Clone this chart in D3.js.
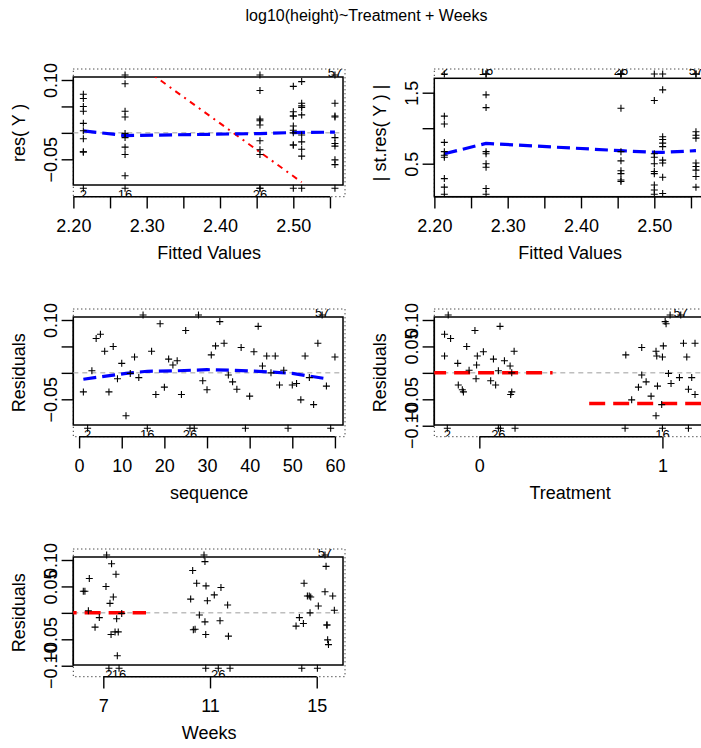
<!DOCTYPE html>
<html>
<head>
<meta charset="utf-8">
<script src="https://cdn.jsdelivr.net/npm/d3@7"></script>
<style>
body { margin: 0; background: #fff; }
text { font-family: "Liberation Sans", Arial, Helvetica, sans-serif; fill: #000; }
</style>
</head>
<body>
<svg id="chart" width="701" height="748"></svg>
<script>
// model: log10(height) ~ Treatment + Weeks, 60 observations
var titleText = "log10(height)~Treatment + Weeks";

// residuals by sequence (null = drawn in the margin as an outlier)
var resid = [
  -0.036, null, 0.004, 0.065, 0.073, 0.041, -0.036, 0.050, -0.011, 0.018,
  -0.081, -0.001, 0.030, -0.009, null, null, 0.041, -0.041, 0.093, -0.027,
  0.026, 0.015, 0.023, -0.041, 0.080, null, null, null, -0.015, -0.032,
  0.034, 0.051, 0.097, 0.056, -0.004, -0.017, -0.031, 0.048, null, -0.044,
  0.040, 0.088, 0.013, 0.032, 0.000, 0.032, -0.023, 0.005, null, -0.023,
  -0.020, -0.051, 0.032, -0.009, -0.060, 0.056, null, -0.025, null, 0.030
];
var highSeq = [15, 28, 57];
var lowSeq = [2, 16, 26, 27, 39, 49, 59];
var labelSeq = [2, 16, 26, 57];

// fitted value of each observation (index into fittedLevels)
var fittedLevels = [2.2136, 2.2705, 2.4545, 2.5114, 2.5000, 2.5568];
var group = [
  0,0,0,0,0,0,0,0,0,0, 1,1,1,1,1,1,1,1,1,1,
  2,2,2,2,2,2,2,2,2,2, 3,3,3,3,3,3,3,3,3,3,
  4,4,4,4,4,4,4,4,4,4, 5,5,5,5,5,5,5,5,5,5
];

// | standardized residuals |
var absStres = [
  0.62, null, 0.07, 1.06, 1.17, 0.67, 0.59, 0.80, 0.17, 0.29,
  1.29, 0.07, 0.50, 0.15, null, null, 0.67, 0.64, 1.47, 0.45,
  0.40, 0.27, 0.36, 0.67, 1.28, null, null, null, 0.25, 0.54,
  0.55, 0.84, 1.54, 0.88, 0.08, 0.31, 0.51, 0.79, null, 0.74,
  0.64, 1.39, 0.20, 0.59, 0.07, 0.50, 0.39, 0.13, null, 0.36,
  0.32, 0.86, 0.51, 0.17, 0.95, 0.90, null, 0.41, null, 0.46
];
var stresHighSeq = [2, 15, 16, 26, 27, 28, 39, 49, 57, 59];

// jittered Treatment and Weeks positions
var trtJit = [
  -0.087, -0.175, 0.104, -0.157, -0.190, 0.190, 0.177, -0.069, -0.018, -0.118,
  0.965, 1.033, 1.000, 1.093, 1.042, 1.000, 0.965, 1.178, 1.020, 0.869,
  0.077, -0.015, 0.137, 0.171, -0.024, 0.104, 0.195, -0.170, 0.062, -0.093,
  0.800, 1.005, 1.015, 1.115, 0.887, 0.911, 1.142, 0.887, 0.796, 0.938,
  0.022, 0.113, 0.168, -0.190, 0.177, -0.011, -0.115, -0.056, 0.115, 0.089,
  1.047, 0.832, 0.969, 1.160, 0.996, 1.178, 1.100, 0.973, 1.142, 1.133
];
var wkJit = [
  7.44, 7.21, 6.44, 6.475, 7.475, 6.25, 7.56, 7.10, 7.50, 7.25,
  7.525, 7.69, 7.375, 6.85, 7.125, 7.59, 6.31, 7.29, 7.31, 6.69,
  10.275, 11.66, 10.90, 10.84, 10.35, 11.31, 10.84, 10.775, 11.375, 10.375,
  11.16, 10.85, 10.81, 10.50, 10.60, 10.81, 10.44, 11.41, 11.75, 11.69,
  15.31, 15.35, 15.06, 14.65, 14.75, 15.60, 15.375, 15.66, 14.44, 15.39,
  14.50, 15.41, 14.72, 14.35, 15.44, 14.525, 15.31, 14.225, 15.025, 14.775
];

// smoothers and reference lines
var fitLowX = [2.2136, 2.2705, 2.4545, 2.5000, 2.5114, 2.5568];
var fitLowY = [0.0038, -0.0051, -0.0013, 0.0006, 0.0008, 0.0013];
var refX = [2.3114, 2.5114];
var refY = [0.1067, -0.0933];
var stresLowX = [2.2136, 2.2705, 2.4545, 2.5000, 2.5114, 2.5568];
var stresLowY = [0.64, 0.786, 0.683, 0.660, 0.660, 0.683];
var seqLowX = [1, 11, 16, 23, 30, 36, 42, 50, 58];
var seqLowY = [-0.012, -0.001, 0.003, 0.004, 0.006, 0.005, 0.003, -0.001, -0.011];
var trtLevels = [0, 1];
var trtLineY = [0, -0.058];
var wkLevels = [7];
var wkLineY = [0];

// ticks
var fitTicks = [2.20, 2.25, 2.30, 2.35, 2.40, 2.45, 2.50, 2.55];
var fitTickLabels = ["2.20", "", "2.30", "", "2.40", "", "2.50", ""];
var seqTicks = [0, 10, 20, 30, 40, 50, 60];
var trtTicks = [0, 1];
var wkTicks = [7, 11, 15];
var resTicks = [-0.05, 0, 0.05, 0.10];
var resTickLabels = ["\u22120.05", "", "", "0.10"];
var resTicks5 = [-0.10, -0.05, 0, 0.05, 0.10];
var resTickLabels5 = ["\u22120.10", "\u22120.05", "", "0.05", "0.10"];
var stresTicks = [0.5, 1.0, 1.5];
var stresTickLabels = ["0.5", "", "1.5"];

var svg = d3.select("#chart");
svg.append("rect").attr("width", 701).attr("height", 748).attr("fill", "#fff");
var defs = svg.append("defs");

svg.append("text")
  .attr("x", 366.5).attr("y", 21)
  .attr("text-anchor", "middle")
  .style("font-size", "16px")
  .text(titleText);

var cols = [{ L: 73.3, R: 345 }, { L: 434.3, R: 706 }];
var rows = [0, 240, 480];

function plus(g, pts) {
  g.selectAll(null).data(pts).enter().append("path")
    .attr("d", function(d) { return "M" + (d[0] - 3.5) + "," + d[1] + "h7M" + d[0] + "," + (d[1] - 3.5) + "v7"; })
    .attr("stroke", "#000").attr("stroke-width", 1.1).attr("fill", "none");
}

// frame, axes and clip groups of one panel
function panel(p) {
  var L = cols[p.col].L, R = cols[p.col].R, off = rows[p.row];
  var top = 69 + off, bottom = 196.7 + off;
  var inTop = p.inTop + off, inBot = p.inBot + off;
  var x = d3.scaleLinear().domain(p.xDomain).range([L, R]);
  var y = d3.scaleLinear().domain(p.yDomain).range([p.yRange[0] + off, p.yRange[1] + off]);
  var id = "clip" + p.col + p.row;

  defs.append("clipPath").attr("id", id + "o").append("rect")
    .attr("x", L).attr("y", top).attr("width", R - L).attr("height", bottom - top);
  defs.append("clipPath").attr("id", id + "i").append("rect")
    .attr("x", L).attr("y", inTop).attr("width", R - 2 - L).attr("height", inBot - inTop);

  svg.append("rect")
    .attr("x", L).attr("y", top).attr("width", R - L).attr("height", bottom - top)
    .attr("fill", "none").attr("stroke", "#000").attr("stroke-width", 1)
    .attr("stroke-dasharray", "1,3");
  svg.append("rect")
    .attr("x", L).attr("y", inTop).attr("width", R - 2 - L).attr("height", inBot - inTop)
    .attr("fill", "none").attr("stroke", "#000").attr("stroke-width", 1.5);

  // x axis
  var gx = svg.append("g").attr("transform", "translate(0," + bottom + ")")
    .call(d3.axisBottom(x).tickValues(p.xTicks)
      .tickFormat(function(d, i) { return p.xLabels[i]; })
      .tickSize(11.7).tickPadding(10.8));
  gx.select(".domain").remove();
  gx.attr("font-size", 18).attr("font-family", null);
  gx.selectAll("line").attr("stroke-width", 1.4);
  gx.append("line")
    .attr("x1", x(p.xTicks[0])).attr("x2", x(p.xTicks[p.xTicks.length - 1]))
    .attr("stroke", "#000").attr("stroke-width", 1.5);

  // y axis, labels parallel to the axis
  var gy = svg.append("g").attr("transform", "translate(" + L + ",0)")
    .call(d3.axisLeft(y).tickValues(p.yTicks)
      .tickFormat(function(d, i) { return p.yLabels[i]; })
      .tickSize(11.7));
  gy.select(".domain").remove();
  gy.attr("font-size", 18).attr("font-family", null);
  gy.selectAll("line").attr("stroke-width", 1.4);
  gy.selectAll("text")
    .attr("transform", "rotate(-90)")
    .attr("x", 0).attr("y", -16.6).attr("dy", 0)
    .attr("text-anchor", "middle");
  gy.append("line")
    .attr("y1", y(p.yTicks[0])).attr("y2", y(p.yTicks[p.yTicks.length - 1]))
    .attr("stroke", "#000").attr("stroke-width", 1.5);

  svg.append("text")
    .attr("x", (L + R) / 2).attr("y", bottom + 62.3)
    .attr("text-anchor", "middle").style("font-size", "18px")
    .text(p.xTitle);
  svg.append("text")
    .attr("transform", "translate(" + (L - 48.3) + "," + ((top + bottom) / 2) + ") rotate(-90)")
    .attr("text-anchor", "middle").style("font-size", "18px")
    .text(p.yTitle);

  return {
    x: x, y: y, inTop: inTop, inBot: inBot, L: L, R: R,
    inner: svg.append("g").attr("clip-path", "url(#" + id + "i)"),
    outer: svg.append("g").attr("clip-path", "url(#" + id + "o)")
  };
}

function dashedLine(g, xs, ys, x, y, color, width, dash) {
  g.append("path")
    .datum(d3.zip(xs, ys))
    .attr("d", d3.line().x(function(d) { return x(d[0]); }).y(function(d) { return y(d[1]); }))
    .attr("fill", "none").attr("stroke", color)
    .attr("stroke-width", width).attr("stroke-dasharray", dash);
}

function zeroLine(P) {
  P.inner.append("line")
    .attr("x1", P.L).attr("x2", P.R).attr("y1", P.y(0)).attr("y2", P.y(0))
    .attr("stroke", "#bebebe").attr("stroke-width", 1.5).attr("stroke-dasharray", "5,4");
}

// residual panel points, margin outliers and labels
function residPoints(P, xval) {
  var pts = [], labs = [];
  resid.forEach(function(r, i) {
    var s = i + 1, px = P.x(xval(i)), py;
    if (highSeq.indexOf(s) >= 0) py = P.inTop - 2;
    else if (lowSeq.indexOf(s) >= 0) py = P.inBot + 3.3;
    else py = P.y(r);
    pts.push([px, py]);
    if (labelSeq.indexOf(s) >= 0) {
      labs.push({ x: px, y: highSeq.indexOf(s) >= 0 ? P.inTop + 0.3 : P.inBot + 13.6, t: String(s) });
    }
  });
  plus(P.outer, pts);
  P.outer.selectAll(null).data(labs).enter().append("text")
    .attr("x", function(d) { return d.x; }).attr("y", function(d) { return d.y; })
    .attr("text-anchor", "middle").style("font-size", "13px")
    .text(function(d) { return d.t; });
}

function fittedOf(i) { return fittedLevels[group[i]]; }

// 1: residuals vs fitted
var P1 = panel({
  col: 0, row: 0, inTop: 77, inBot: 185,
  xDomain: [2.1999, 2.5705], yDomain: [-0.05, 0.10], yRange: [159.3, 80],
  xTicks: fitTicks, xLabels: fitTickLabels, yTicks: resTicks, yLabels: resTickLabels,
  xTitle: "Fitted Values", yTitle: "res( Y )"
});
zeroLine(P1);
dashedLine(P1.inner, refX, refY, P1.x, P1.y, "#ff0000", 2, "2,5,6,5");
residPoints(P1, fittedOf);
dashedLine(P1.inner, fitLowX, fitLowY, P1.x, P1.y, "#0000ff", 3.2, "13,6");

// 2: |st.res| vs fitted
var P2 = panel({
  col: 1, row: 0, inTop: 78.3, inBot: 196.7,
  xDomain: [2.1999, 2.5705], yDomain: [0.5, 1.5], yRange: [163.7, 92.7],
  xTicks: fitTicks, xLabels: fitTickLabels, yTicks: stresTicks, yLabels: stresTickLabels,
  xTitle: "Fitted Values", yTitle: "| st.res( Y ) |"
});
(function() {
  var pts = [], labs = [];
  absStres.forEach(function(v, i) {
    var s = i + 1, px = P2.x(fittedOf(i));
    if (stresHighSeq.indexOf(s) >= 0) {
      pts.push([px, P2.inTop - 4.3]);
      if (labelSeq.indexOf(s) >= 0) labs.push({ x: px, t: String(s) });
    } else {
      pts.push([px, P2.y(v)]);
    }
  });
  plus(P2.outer, pts);
  P2.outer.selectAll(null).data(labs).enter().append("text")
    .attr("x", function(d) { return d.x; }).attr("y", P2.inTop - 3.3)
    .attr("text-anchor", "middle").style("font-size", "13px")
    .text(function(d) { return d.t; });
})();
dashedLine(P2.inner, stresLowX, stresLowY, P2.x, P2.y, "#0000ff", 3.2, "13,6");

// 3: residuals vs sequence
var P3 = panel({
  col: 0, row: 1, inTop: 77, inBot: 185,
  xDomain: [-1.36, 62.36], yDomain: [-0.05, 0.10], yRange: [159.3, 80],
  xTicks: seqTicks, xLabels: seqTicks.map(String), yTicks: resTicks, yLabels: resTickLabels,
  xTitle: "sequence", yTitle: "Residuals"
});
zeroLine(P3);
residPoints(P3, function(i) { return i + 1; });
dashedLine(P3.inner, seqLowX, seqLowY, P3.x, P3.y, "#0000ff", 3.2, "13,6");

// 4: residuals vs Treatment
var P4 = panel({
  col: 1, row: 1, inTop: 77, inBot: 185,
  xDomain: [-0.246, 1.238], yDomain: [-0.05, 0.10], yRange: [159.3, 80],
  xTicks: trtTicks, xLabels: trtTicks.map(String), yTicks: resTicks5, yLabels: resTickLabels5,
  xTitle: "Treatment", yTitle: "Residuals"
});
zeroLine(P4);
residPoints(P4, function(i) { return trtJit[i]; });
trtLevels.forEach(function(lv, k) {
  dashedLine(P4.inner, [lv - 0.4, lv + 0.4], [trtLineY[k], trtLineY[k]], P4.x, P4.y, "#ff0000", 3.5, "16,8");
});

// 5: residuals vs Weeks
var P5 = panel({
  col: 0, row: 2, inTop: 77, inBot: 185,
  xDomain: [5.875, 16.06], yDomain: [-0.05, 0.10], yRange: [159.3, 80],
  xTicks: wkTicks, xLabels: wkTicks.map(String), yTicks: resTicks5, yLabels: resTickLabels5,
  xTitle: "Weeks", yTitle: "Residuals"
});
zeroLine(P5);
residPoints(P5, function(i) { return wkJit[i]; });
wkLevels.forEach(function(lv, k) {
  dashedLine(P5.inner, [lv - 1.6, lv + 1.6], [wkLineY[k], wkLineY[k]], P5.x, P5.y, "#ff0000", 3.5, "16,8");
});
</script>
</body>
</html>
